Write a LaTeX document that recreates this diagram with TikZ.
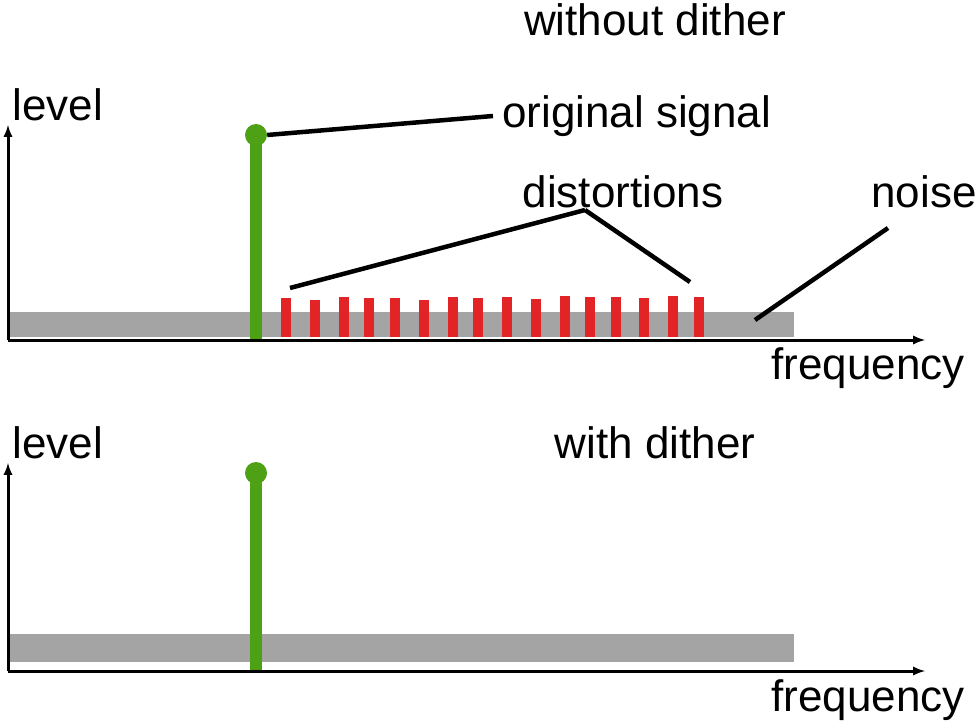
\documentclass[tikz,border=0pt]{standalone}
\usepackage{fontspec}
\setmainfont{Liberation Sans}
\definecolor{noisegray}{RGB}{164,164,164}
\definecolor{sigreen}{RGB}{78,160,20}
\definecolor{distred}{RGB}{226,36,38}
\begin{document}
\begin{tikzpicture}[x=1pt,y=-1pt,
  lbl/.style={font=\fontsize{44}{50}\selectfont, inner sep=0pt},
  axis/.style={line width=3pt,-latex},
  ptr/.style={line width=4.5pt}]
\useasboundingbox (0,0) rectangle (979,727);
% without dither
\fill[noisegray] (8,312) rectangle (794,337);
\foreach \x/\t in {286/298,315/300,344/297,369/298,395/298,424/300,453/297,478/298,507/297,536/299,565/296,590/297,616/297,644/298,673/296,699/297}
  \fill[distred] (\x-5,\t) rectangle (\x+5,337);
\fill[sigreen] (250,140) rectangle (262,340);
\node[circle,fill=sigreen,minimum size=22pt,inner sep=0pt] (dot1) at (256,135) {};
\coordinate (o1) at (8,340);
\draw[axis] (o1) -- (8,125);
\draw[axis] (o1) -- (925,340);
\node[lbl] (title1) at (655,20) {without dither};
\node[lbl] (lev1) at (58,105) {level};
\node[lbl,anchor=west] (orig) at (502,116) {original signal};
\node[lbl] (dist) at (623,192) {distortions};
\node[lbl] (noise) at (924,192) {noise};
\node[lbl] (freq1) at (868,368) {frequency};
\coordinate (d1) at (290,288);
\coordinate (d2) at (690,282);
\coordinate (n1) at (755,320);
\coordinate (c1) at (493,116);
\coordinate (c2) at (585,210);
\coordinate (c3) at (888,228);
\draw[ptr] (dot1.east) -- (c1);
\draw[ptr] (c2) -- (d1);
\draw[ptr] (c2) -- (d2);
\draw[ptr] (c3) -- (n1);
% with dither
\fill[noisegray] (8,634) rectangle (794,662);
\fill[sigreen] (250,475) rectangle (262,671);
\node[circle,fill=sigreen,minimum size=22pt,inner sep=0pt] (dot2) at (256,473) {};
\coordinate (o2) at (8,671);
\draw[axis] (o2) -- (8,463);
\draw[axis] (o2) -- (925,671);
\node[lbl] (lev2) at (58,443) {level};
\node[lbl] (title2) at (655,443) {with dither};
\node[lbl] (freq2) at (868,700) {frequency};
\end{tikzpicture}
\end{document}
